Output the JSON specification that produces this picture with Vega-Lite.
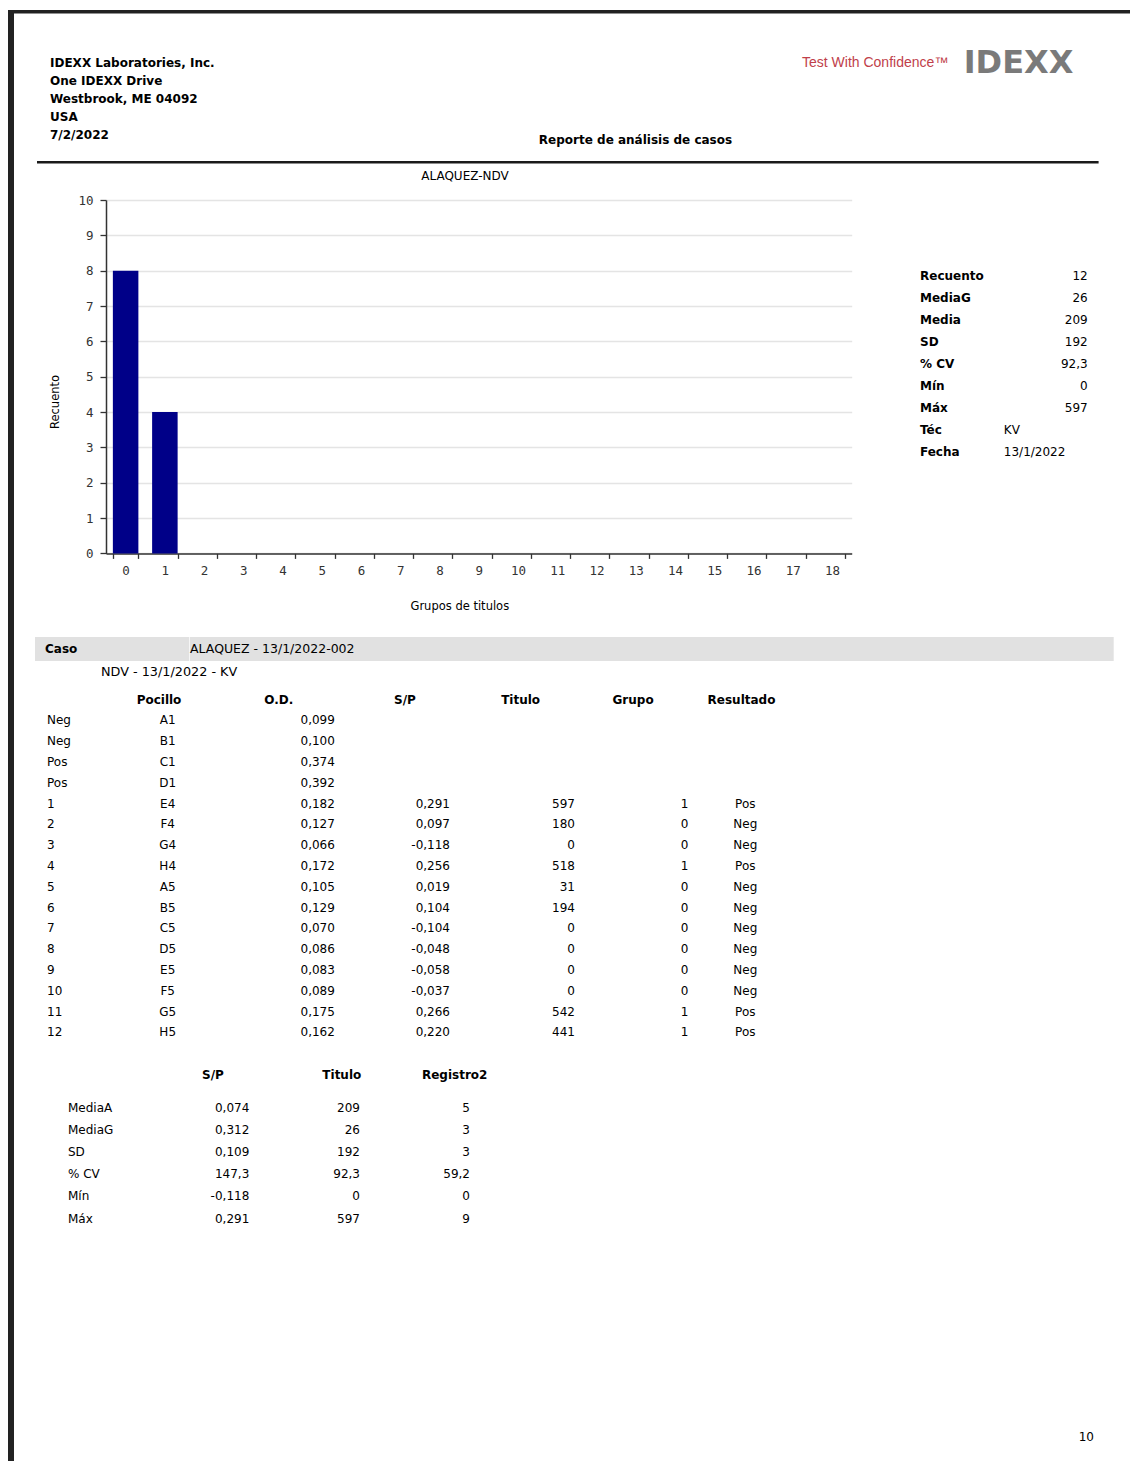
{
  "$schema": "https://vega.github.io/schema/vega-lite/v6.json",
  "padding": {"left": 8, "top": 10, "right": 0, "bottom": 0},
  "background": "white",
  "spacing": 0,
  "bounds": "flush",
  "config": {
    "view": {"stroke": null},
    "font": "DejaVu Sans",
    "text": {"font": "DejaVu Sans", "fontSize": 12, "color": "#000000", "baseline": "middle"},
    "concat": {"spacing": 0},
    "locale": {"number": {"decimal": ",", "thousands": ".", "grouping": [3], "currency": ["", ""], "minus": "-"}}
  },
  "datasets": {
    "pozos": [
      {"fila": 1, "muestra": "Neg", "pocillo": "A1", "od": 0.099},
      {"fila": 2, "muestra": "Neg", "pocillo": "B1", "od": 0.100},
      {"fila": 3, "muestra": "Pos", "pocillo": "C1", "od": 0.374},
      {"fila": 4, "muestra": "Pos", "pocillo": "D1", "od": 0.392},
      {"fila": 5, "muestra": "1", "pocillo": "E4", "od": 0.182, "sp": 0.291, "titulo": 597, "grupo": 1, "resultado": "Pos"},
      {"fila": 6, "muestra": "2", "pocillo": "F4", "od": 0.127, "sp": 0.097, "titulo": 180, "grupo": 0, "resultado": "Neg"},
      {"fila": 7, "muestra": "3", "pocillo": "G4", "od": 0.066, "sp": -0.118, "titulo": 0, "grupo": 0, "resultado": "Neg"},
      {"fila": 8, "muestra": "4", "pocillo": "H4", "od": 0.172, "sp": 0.256, "titulo": 518, "grupo": 1, "resultado": "Pos"},
      {"fila": 9, "muestra": "5", "pocillo": "A5", "od": 0.105, "sp": 0.019, "titulo": 31, "grupo": 0, "resultado": "Neg"},
      {"fila": 10, "muestra": "6", "pocillo": "B5", "od": 0.129, "sp": 0.104, "titulo": 194, "grupo": 0, "resultado": "Neg"},
      {"fila": 11, "muestra": "7", "pocillo": "C5", "od": 0.070, "sp": -0.104, "titulo": 0, "grupo": 0, "resultado": "Neg"},
      {"fila": 12, "muestra": "8", "pocillo": "D5", "od": 0.086, "sp": -0.048, "titulo": 0, "grupo": 0, "resultado": "Neg"},
      {"fila": 13, "muestra": "9", "pocillo": "E5", "od": 0.083, "sp": -0.058, "titulo": 0, "grupo": 0, "resultado": "Neg"},
      {"fila": 14, "muestra": "10", "pocillo": "F5", "od": 0.089, "sp": -0.037, "titulo": 0, "grupo": 0, "resultado": "Neg"},
      {"fila": 15, "muestra": "11", "pocillo": "G5", "od": 0.175, "sp": 0.266, "titulo": 542, "grupo": 1, "resultado": "Pos"},
      {"fila": 16, "muestra": "12", "pocillo": "H5", "od": 0.162, "sp": 0.220, "titulo": 441, "grupo": 1, "resultado": "Pos"}
    ],
    "resumen": [
      {"fila": 1, "estadistico": "MediaA", "sp": "0,074", "titulo": "209", "registro2": "5"},
      {"fila": 2, "estadistico": "MediaG", "sp": "0,312", "titulo": "26", "registro2": "3"},
      {"fila": 3, "estadistico": "SD", "sp": "0,109", "titulo": "192", "registro2": "3"},
      {"fila": 4, "estadistico": "% CV", "sp": "147,3", "titulo": "92,3", "registro2": "59,2"},
      {"fila": 5, "estadistico": "Mín", "sp": "-0,118", "titulo": "0", "registro2": "0"},
      {"fila": 6, "estadistico": "Máx", "sp": "0,291", "titulo": "597", "registro2": "9"}
    ],
    "estadisticas": [
      {"fila": 1, "etiqueta": "Recuento", "valor": "12"},
      {"fila": 2, "etiqueta": "MediaG", "valor": "26"},
      {"fila": 3, "etiqueta": "Media", "valor": "209"},
      {"fila": 4, "etiqueta": "SD", "valor": "192"},
      {"fila": 5, "etiqueta": "% CV", "valor": "92,3"},
      {"fila": 6, "etiqueta": "Mín", "valor": "0"},
      {"fila": 7, "etiqueta": "Máx", "valor": "597"},
      {"fila": 8, "etiqueta": "Téc", "medio": "KV"},
      {"fila": 9, "etiqueta": "Fecha", "medio": "13/1/2022"}
    ],
    "histograma": [
      {"grupo": 0, "recuento": 8}, {"grupo": 1, "recuento": 4}, {"grupo": 2, "recuento": 0},
      {"grupo": 3, "recuento": 0}, {"grupo": 4, "recuento": 0}, {"grupo": 5, "recuento": 0},
      {"grupo": 6, "recuento": 0}, {"grupo": 7, "recuento": 0}, {"grupo": 8, "recuento": 0},
      {"grupo": 9, "recuento": 0}, {"grupo": 10, "recuento": 0}, {"grupo": 11, "recuento": 0},
      {"grupo": 12, "recuento": 0}, {"grupo": 13, "recuento": 0}, {"grupo": 14, "recuento": 0},
      {"grupo": 15, "recuento": 0}, {"grupo": 16, "recuento": 0}, {"grupo": 17, "recuento": 0},
      {"grupo": 18, "recuento": 0}
    ]
  },
  "hconcat": [
    {"width": 6, "height": 1451, "view": {"fill": "#222222", "stroke": null}, "data": {"values": []}, "mark": "text", "encoding": {}},
    {
      "spacing": 0, "bounds": "flush",
      "vconcat": [
        {"width": 1116, "height": 3.5, "view": {"fill": "#222222", "stroke": null}, "data": {"values": []}, "mark": "text", "encoding": {}},
        {
          "spacing": 0, "bounds": "flush",
          "vconcat": [
            {
              "spacing": 0, "bounds": "flush",
              "hconcat": [
                {"width": 35.3, "height": 1, "data": {"values": []}, "mark": "text", "encoding": {}},
                {
                  "spacing": 0, "bounds": "flush",
                  "vconcat": [
                    {"width": 1, "height": 39.35, "data": {"values": []}, "mark": "text", "encoding": {}},
                    {
                      "width": 488.7, "height": 89.5,
                      "data": {"values": [
                        {"linea": 1, "texto": "IDEXX Laboratories, Inc."},
                        {"linea": 2, "texto": "One IDEXX Drive"},
                        {"linea": 3, "texto": "Westbrook, ME 04092"},
                        {"linea": 4, "texto": "USA"},
                        {"linea": 5, "texto": "7/2/2022"}
                      ]},
                      "mark": {"type": "text", "align": "left", "fontWeight": "bold"},
                      "encoding": {
                        "x": {"datum": "izq", "type": "nominal", "scale": {"type": "point", "domain": ["izq", "der"], "padding": 0}, "axis": null},
                        "y": {"field": "linea", "type": "ordinal", "axis": null},
                        "text": {"field": "texto"}
                      }
                    }
                  ]
                },
                {"width": 488.7, "height": 1, "data": {"values": []}, "mark": "text", "encoding": {}},
                {
                  "spacing": 0, "bounds": "flush",
                  "vconcat": [
                    {"width": 1, "height": 115.5, "data": {"values": []}, "mark": "text", "encoding": {}},
                    {
                      "width": 193, "height": 20,
                      "data": {"values": [{"texto": "Reporte de análisis de casos"}]},
                      "mark": {"type": "text", "fontWeight": "bold"},
                      "encoding": {"text": {"field": "texto"}}
                    }
                  ]
                },
                {"width": 262.7, "height": 1, "data": {"values": []}, "mark": "text", "encoding": {}},
                {
                  "spacing": 0, "bounds": "flush",
                  "vconcat": [
                    {"width": 1, "height": 38.8, "data": {"values": []}, "mark": "text", "encoding": {}},
                    {
                      "width": 162.3, "height": 20,
                      "data": {"values": [{"texto": "Test With Confidence™"}]},
                      "mark": {"type": "text", "align": "left", "font": "Liberation Sans", "fontSize": 14, "color": "#c0404a"},
                      "encoding": {
                        "x": {"datum": "izq", "type": "nominal", "scale": {"type": "point", "domain": ["izq", "der"], "padding": 0}, "axis": null},
                        "text": {"field": "texto"}
                      }
                    }
                  ]
                },
                {"width": 160, "height": 1, "data": {"values": []}, "mark": "text", "encoding": {}},
                {
                  "spacing": 0, "bounds": "flush",
                  "vconcat": [
                    {"width": 1, "height": 37.2, "data": {"values": []}, "mark": "text", "encoding": {}},
                    {
                      "width": 113, "height": 21,
                      "data": {"values": [{"texto": "IDEXX"}]},
                      "mark": {"type": "text", "fontWeight": "bold", "fontSize": 32, "color": "#7a7a7a"},
                      "encoding": {"text": {"field": "texto"}}
                    }
                  ]
                }
              ]
            },
            {"width": 1, "height": 147, "data": {"values": []}, "mark": "text", "encoding": {}},
            {
              "spacing": 0, "bounds": "flush",
              "hconcat": [
                {"width": 22.7, "height": 2.5, "data": {"values": []}, "mark": "text", "encoding": {}},
                {"width": 1061.6, "height": 2.5, "view": {"fill": "#1a1a1a", "stroke": null}, "data": {"values": []}, "mark": "text", "encoding": {}}
              ]
            }
          ]
        },
        {"width": 1, "height": 185.8, "data": {"values": []}, "mark": "text", "encoding": {}},
        {
          "spacing": 0, "bounds": "flush",
          "hconcat": [
            {"width": 92, "height": 1, "data": {"values": []}, "mark": "text", "encoding": {}},
            {
              "width": 745.7, "height": 353.4,
              "data": {"name": "histograma"},
              "title": {"text": "ALAQUEZ-NDV", "font": "DejaVu Sans", "fontSize": 12, "fontWeight": "normal", "color": "#000000", "anchor": "middle", "frame": "group", "dx": -13.85, "offset": 6, "baseline": "middle"},
              "mark": {"type": "bar", "color": "#000088"},
              "encoding": {
                "x": {
                  "field": "grupo", "type": "ordinal",
                  "scale": {"paddingInner": 0.35, "paddingOuter": 0.175},
                  "axis": {
                    "title": "Grupos de titulos", "labelAngle": 0, "tickBand": "extent", "tickSize": 5, "tickColor": "#333333", "tickWidth": 1.3,
                    "domainColor": "#333333", "domainWidth": 1.5, "labelFont": "DejaVu Sans Mono", "labelFontSize": 12.5, "labelColor": "#333333", "labelPadding": 6,
                    "titleFont": "DejaVu Sans", "titleFontSize": 11.5, "titleFontWeight": "normal", "titleColor": "#000000",
                    "titleX": 353.3, "titleY": 53.5, "titleBaseline": "middle", "titleAlign": "center"
                  }
                },
                "y": {
                  "field": "recuento", "type": "quantitative",
                  "scale": {"domain": [0, 10], "nice": false},
                  "axis": {
                    "values": [0, 1, 2, 3, 4, 5, 6, 7, 8, 9, 10], "title": "Recuento", "grid": true, "gridColor": "#e4e4e4", "gridWidth": 1.3,
                    "tickSize": 6, "tickColor": "#333333", "tickWidth": 1.3, "domainColor": "#333333", "domainWidth": 1.5,
                    "labelFont": "DejaVu Sans Mono", "labelFontSize": 12.5, "labelColor": "#333333", "labelPadding": 7,
                    "titleFont": "DejaVu Sans", "titleFontSize": 11.5, "titleFontWeight": "normal", "titleColor": "#000000",
                    "titleX": -50.3, "titleY": 201.5, "titleBaseline": "middle", "titleAlign": "center", "titleAngle": -90
                  }
                }
              }
            },
            {"width": 67.3, "height": 1, "data": {"values": []}, "mark": "text", "encoding": {}},
            {
              "spacing": 0, "bounds": "flush",
              "vconcat": [
                {"width": 1, "height": 64.7, "data": {"values": []}, "mark": "text", "encoding": {}},
                {
                  "width": 167.7, "height": 198,
                  "data": {"name": "estadisticas"},
                  "encoding": {
                    "y": {"field": "fila", "type": "ordinal", "scale": {"domain": [1, 2, 3, 4, 5, 6, 7, 8, 9]}, "axis": null}
                  },
                  "layer": [
                    {
                      "mark": {"type": "text", "align": "left", "fontWeight": "bold"},
                      "encoding": {
                        "x": {"datum": "izq", "type": "nominal", "scale": {"type": "point", "domain": ["izq", "centro", "der"], "padding": 0}, "axis": null},
                        "text": {"field": "etiqueta"}
                      }
                    },
                    {
                      "transform": [{"filter": "isValid(datum.valor)"}],
                      "mark": {"type": "text", "align": "right"},
                      "encoding": {
                        "x": {"datum": "der", "type": "nominal", "scale": {"type": "point", "domain": ["izq", "centro", "der"], "padding": 0}, "axis": null},
                        "text": {"field": "valor"}
                      }
                    },
                    {
                      "transform": [{"filter": "isValid(datum.medio)"}],
                      "mark": {"type": "text", "align": "left"},
                      "encoding": {
                        "x": {"datum": "centro", "type": "nominal", "scale": {"type": "point", "domain": ["izq", "centro", "der"], "padding": 0}, "axis": null},
                        "text": {"field": "medio"}
                      }
                    }
                  ]
                }
              ]
            }
          ]
        },
        {"width": 1, "height": 353.4, "data": {"values": []}, "mark": "text", "encoding": {}},
        {
          "spacing": 0, "bounds": "flush",
          "vconcat": [
            {"width": 1, "height": 82.8, "data": {"values": []}, "mark": "text", "encoding": {}},
            {
              "spacing": 0, "bounds": "flush",
              "hconcat": [
                {"width": 21, "height": 24, "data": {"values": []}, "mark": "text", "encoding": {}},
                {"width": 10, "height": 24, "view": {"fill": "#e1e1e1", "stroke": null}, "data": {"values": []}, "mark": "text", "encoding": {}},
                {
                  "width": 144.3, "height": 24, "view": {"fill": "#e1e1e1", "stroke": null},
                  "data": {"values": [{"texto": "Caso"}]},
                  "mark": {"type": "text", "align": "left", "fontWeight": "bold"},
                  "encoding": {
                    "x": {"datum": "izq", "type": "nominal", "scale": {"type": "point", "domain": ["izq", "der"], "padding": 0}, "axis": null},
                    "text": {"field": "texto"}
                  }
                },
                {
                  "width": 923.7, "height": 24, "view": {"fill": "#e1e1e1", "stroke": null},
                  "data": {"values": [{"texto": "ALAQUEZ - 13/1/2022-002"}]},
                  "mark": {"type": "text", "align": "left", "fontSize": 12.5},
                  "encoding": {
                    "x": {"datum": "izq", "type": "nominal", "scale": {"type": "point", "domain": ["izq", "der"], "padding": 0}, "axis": null},
                    "text": {"field": "texto"}
                  }
                }
              ]
            },
            {"width": 1, "height": 24, "data": {"values": []}, "mark": "text", "encoding": {}},
            {
              "spacing": 0, "bounds": "flush",
              "hconcat": [
                {"width": 86.7, "height": 21.4, "data": {"values": []}, "mark": "text", "encoding": {}},
                {
                  "width": 300, "height": 21.4,
                  "data": {"values": [{"texto": "NDV - 13/1/2022 - KV"}]},
                  "mark": {"type": "text", "align": "left", "fontSize": 12.8},
                  "encoding": {
                    "x": {"datum": "izq", "type": "nominal", "scale": {"type": "point", "domain": ["izq", "der"], "padding": 0}, "axis": null},
                    "text": {"field": "texto"}
                  }
                }
              ]
            },
            {"width": 1, "height": 28.3, "data": {"values": []}, "mark": "text", "encoding": {}},
            {
              "spacing": 0, "bounds": "flush",
              "hconcat": [
                {"width": 115, "height": 20, "data": {"values": []}, "mark": "text", "encoding": {}},
                {"width": 60, "height": 20, "data": {"values": [{"encabezado": "Pocillo"}]}, "mark": {"type": "text", "fontWeight": "bold"}, "encoding": {"text": {"field": "encabezado"}}},
                {"width": 179.6, "height": 20, "data": {"values": [{"encabezado": "O.D."}]}, "mark": {"type": "text", "fontWeight": "bold"}, "encoding": {"text": {"field": "encabezado"}}},
                {"width": 71.8, "height": 20, "data": {"values": [{"encabezado": "S/P"}]}, "mark": {"type": "text", "fontWeight": "bold"}, "encoding": {"text": {"field": "encabezado"}}},
                {"width": 159.2, "height": 20, "data": {"values": [{"encabezado": "Titulo"}]}, "mark": {"type": "text", "fontWeight": "bold"}, "encoding": {"text": {"field": "encabezado"}}},
                {"width": 64.2, "height": 20, "data": {"values": [{"encabezado": "Grupo"}]}, "mark": {"type": "text", "fontWeight": "bold"}, "encoding": {"text": {"field": "encabezado"}}},
                {"width": 151, "height": 20, "data": {"values": [{"encabezado": "Resultado"}]}, "mark": {"type": "text", "fontWeight": "bold"}, "encoding": {"text": {"field": "encabezado"}}}
              ]
            },
            {"width": 1, "height": 20.0, "data": {"values": []}, "mark": "text", "encoding": {}},
            {
              "spacing": 0, "bounds": "flush",
              "hconcat": [
                {"width": 32.7, "height": 1, "data": {"values": []}, "mark": "text", "encoding": {}},
                {
                  "width": 93.3, "height": 332.8, "data": {"name": "pozos"},
                  "mark": {"type": "text", "align": "left"},
                  "encoding": {
                    "x": {"datum": "izq", "type": "nominal", "scale": {"type": "point", "domain": ["izq", "der"], "padding": 0}, "axis": null},
                    "y": {"field": "fila", "type": "ordinal", "scale": {"domain": [1, 2, 3, 4, 5, 6, 7, 8, 9, 10, 11, 12, 13, 14, 15, 16]}, "axis": null},
                    "text": {"field": "muestra"}
                  }
                },
                {
                  "width": 53.4, "height": 332.8, "data": {"name": "pozos"},
                  "mark": {"type": "text"},
                  "encoding": {
                    "y": {"field": "fila", "type": "ordinal", "scale": {"domain": [1, 2, 3, 4, 5, 6, 7, 8, 9, 10, 11, 12, 13, 14, 15, 16]}, "axis": null},
                    "text": {"field": "pocillo"}
                  }
                },
                {
                  "width": 139.9, "height": 332.8, "data": {"name": "pozos"},
                  "mark": {"type": "text", "align": "right"},
                  "encoding": {
                    "x": {"datum": "der", "type": "nominal", "scale": {"type": "point", "domain": ["izq", "der"], "padding": 0}, "axis": null},
                    "y": {"field": "fila", "type": "ordinal", "scale": {"domain": [1, 2, 3, 4, 5, 6, 7, 8, 9, 10, 11, 12, 13, 14, 15, 16]}, "axis": null},
                    "text": {"field": "od", "type": "quantitative", "format": ".3f"}
                  }
                },
                {
                  "width": 115, "height": 332.8, "data": {"name": "pozos"},
                  "transform": [{"filter": "isValid(datum.sp)"}],
                  "mark": {"type": "text", "align": "right"},
                  "encoding": {
                    "x": {"datum": "der", "type": "nominal", "scale": {"type": "point", "domain": ["izq", "der"], "padding": 0}, "axis": null},
                    "y": {"field": "fila", "type": "ordinal", "scale": {"domain": [1, 2, 3, 4, 5, 6, 7, 8, 9, 10, 11, 12, 13, 14, 15, 16]}, "axis": null},
                    "text": {"field": "sp", "type": "quantitative", "format": ".3f"}
                  }
                },
                {
                  "width": 125, "height": 332.8, "data": {"name": "pozos"},
                  "transform": [{"filter": "isValid(datum.titulo)"}],
                  "mark": {"type": "text", "align": "right"},
                  "encoding": {
                    "x": {"datum": "der", "type": "nominal", "scale": {"type": "point", "domain": ["izq", "der"], "padding": 0}, "axis": null},
                    "y": {"field": "fila", "type": "ordinal", "scale": {"domain": [1, 2, 3, 4, 5, 6, 7, 8, 9, 10, 11, 12, 13, 14, 15, 16]}, "axis": null},
                    "text": {"field": "titulo", "type": "quantitative", "format": "d"}
                  }
                },
                {
                  "width": 113.4, "height": 332.8, "data": {"name": "pozos"},
                  "transform": [{"filter": "isValid(datum.grupo)"}],
                  "mark": {"type": "text", "align": "right"},
                  "encoding": {
                    "x": {"datum": "der", "type": "nominal", "scale": {"type": "point", "domain": ["izq", "der"], "padding": 0}, "axis": null},
                    "y": {"field": "fila", "type": "ordinal", "scale": {"domain": [1, 2, 3, 4, 5, 6, 7, 8, 9, 10, 11, 12, 13, 14, 15, 16]}, "axis": null},
                    "text": {"field": "grupo", "type": "quantitative", "format": "d"}
                  }
                },
                {
                  "width": 112.6, "height": 332.8, "data": {"name": "pozos"},
                  "transform": [{"filter": "isValid(datum.resultado)"}],
                  "mark": {"type": "text"},
                  "encoding": {
                    "y": {"field": "fila", "type": "ordinal", "scale": {"domain": [1, 2, 3, 4, 5, 6, 7, 8, 9, 10, 11, 12, 13, 14, 15, 16]}, "axis": null},
                    "text": {"field": "resultado"}
                  }
                }
              ]
            },
            {"width": 1, "height": 354.2, "data": {"values": []}, "mark": "text", "encoding": {}},
            {
              "spacing": 0, "bounds": "flush",
              "hconcat": [
                {"width": 168.5, "height": 20, "data": {"values": []}, "mark": "text", "encoding": {}},
                {"width": 60, "height": 20, "data": {"values": [{"encabezado": "S/P"}]}, "mark": {"type": "text", "fontWeight": "bold"}, "encoding": {"text": {"field": "encabezado"}}},
                {"width": 197.6, "height": 20, "data": {"values": [{"encabezado": "Titulo"}]}, "mark": {"type": "text", "fontWeight": "bold"}, "encoding": {"text": {"field": "encabezado"}}},
                {"width": 27.4, "height": 20, "data": {"values": [{"encabezado": "Registro2"}]}, "mark": {"type": "text", "fontWeight": "bold"}, "encoding": {"text": {"field": "encabezado"}}}
              ]
            },
            {"width": 1, "height": 31.15, "data": {"values": []}, "mark": "text", "encoding": {}},
            {
              "spacing": 0, "bounds": "flush",
              "hconcat": [
                {"width": 53.3, "height": 1, "data": {"values": []}, "mark": "text", "encoding": {}},
                {
                  "width": 82.7, "height": 132.6, "data": {"name": "resumen"},
                  "mark": {"type": "text", "align": "left"},
                  "encoding": {
                    "x": {"datum": "izq", "type": "nominal", "scale": {"type": "point", "domain": ["izq", "der"], "padding": 0}, "axis": null},
                    "y": {"field": "fila", "type": "ordinal", "axis": null},
                    "text": {"field": "estadistico"}
                  }
                },
                {
                  "width": 98.3, "height": 132.6, "data": {"name": "resumen"},
                  "mark": {"type": "text", "align": "right"},
                  "encoding": {
                    "x": {"datum": "der", "type": "nominal", "scale": {"type": "point", "domain": ["izq", "der"], "padding": 0}, "axis": null},
                    "y": {"field": "fila", "type": "ordinal", "axis": null},
                    "text": {"field": "sp"}
                  }
                },
                {
                  "width": 110, "height": 132.6, "data": {"name": "resumen"},
                  "mark": {"type": "text", "align": "right"},
                  "encoding": {
                    "x": {"datum": "der", "type": "nominal", "scale": {"type": "point", "domain": ["izq", "der"], "padding": 0}, "axis": null},
                    "y": {"field": "fila", "type": "ordinal", "axis": null},
                    "text": {"field": "titulo"}
                  }
                },
                {
                  "width": 110, "height": 132.6, "data": {"name": "resumen"},
                  "mark": {"type": "text", "align": "right"},
                  "encoding": {
                    "x": {"datum": "der", "type": "nominal", "scale": {"type": "point", "domain": ["izq", "der"], "padding": 0}, "axis": null},
                    "y": {"field": "fila", "type": "ordinal", "axis": null},
                    "text": {"field": "registro2"}
                  }
                }
              ]
            },
            {"width": 1, "height": 330, "data": {"values": []}, "mark": "text", "encoding": {}},
            {
              "spacing": 0, "bounds": "flush",
              "hconcat": [
                {"width": 1029.3, "height": 20, "data": {"values": []}, "mark": "text", "encoding": {}},
                {
                  "width": 50, "height": 20,
                  "data": {"values": [{"pagina": "10"}]},
                  "mark": {"type": "text", "align": "right"},
                  "encoding": {
                    "x": {"datum": "der", "type": "nominal", "scale": {"type": "point", "domain": ["izq", "der"], "padding": 0}, "axis": null},
                    "text": {"field": "pagina"}
                  }
                }
              ]
            }
          ]
        }
      ]
    }
  ]
}
